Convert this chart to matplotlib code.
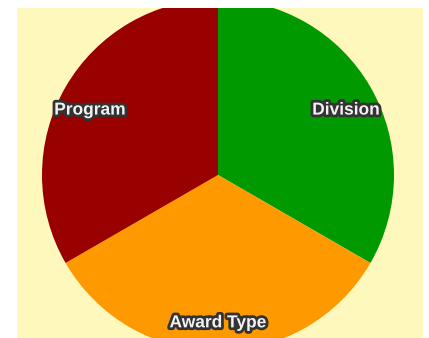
import matplotlib
matplotlib.use("Agg")
import matplotlib.pyplot as plt
import matplotlib.patheffects as pe
import matplotlib.transforms as mtransforms

# slices, clockwise from 12 o'clock
labels = ["Division", "Award Type", "Program"]
values = [1, 1, 1]
colors = ["#009900", "#ff9900", "#990000"]

fig = plt.figure(figsize=(4.29, 3.38), dpi=100)
fig.patch.set_facecolor("white")

# yellow panel in pixels: x 17..423, y 8..338
ax = fig.add_axes([17 / 429, 0 / 338, 406 / 429, 330 / 338])
wedges, texts = ax.pie(values, labels=labels, colors=colors, startangle=90,
                       counterclock=False, labeldistance=0.84,
                       wedgeprops=dict(linewidth=0),
                       textprops=dict(color="#f2f2f2", fontsize=12.5,
                                      fontweight="bold",
                                      family="Liberation Sans",
                                      ha="center", va="center"))
for w in wedges:
    w.set_clip_on(True)
    w.set_clip_path(ax.patch)
for t in texts:
    t.set_path_effects([pe.withStroke(linewidth=4, foreground="#333333")])
    # upper labels sit a bit lower than the slice middle
    if t.get_position()[1] > 0:
        t.set_transform(mtransforms.offset_copy(ax.transData, fig=fig,
                                                x=0, y=-9, units="dots"))

ax.set_aspect("auto")
ax.set_xlim(-201 / 176, 205 / 176)
ax.set_ylim(-163 / 176, 167 / 176)
ax.set_frame_on(True)
ax.set_facecolor("#fff8bd")
for s in ax.spines.values():
    s.set_visible(False)
ax.set_xticks([])
ax.set_yticks([])

fig.savefig("out.png", dpi=100)
